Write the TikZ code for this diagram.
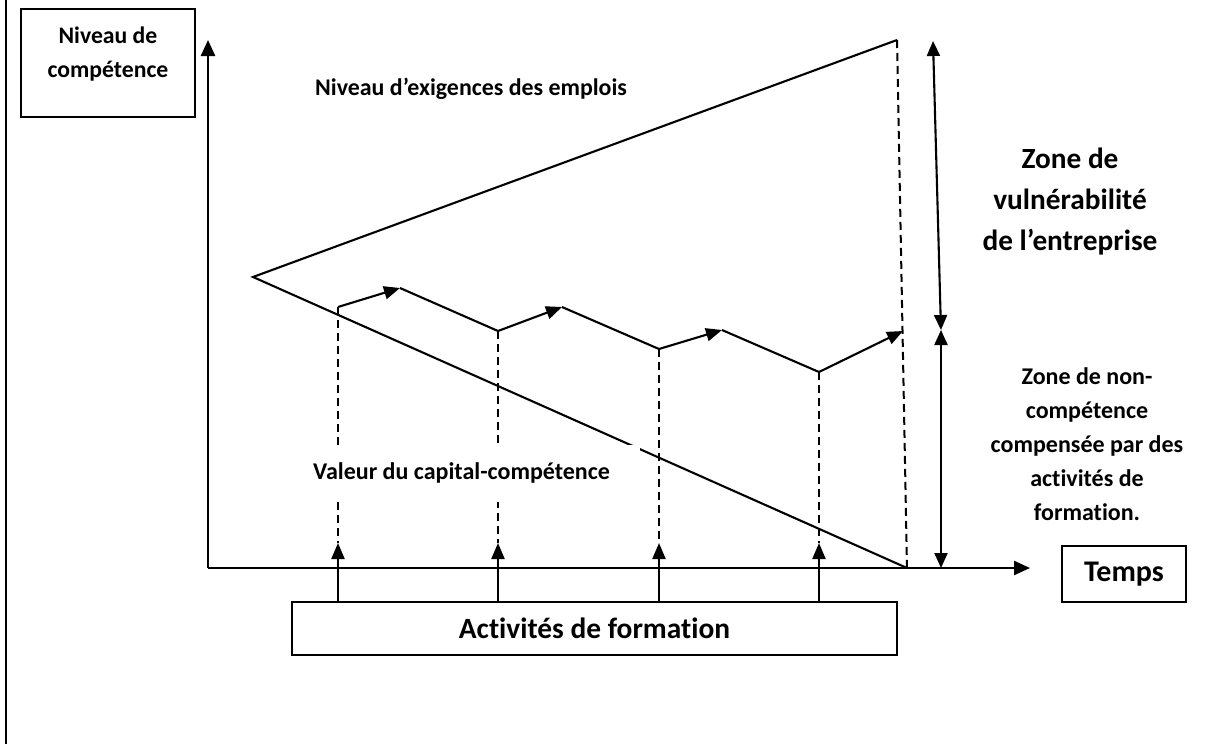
\documentclass[tikz,border=0pt]{standalone}
\usepackage{fontspec}
\setmainfont{Carlito}[Ligatures=NoCommon]
\usetikzlibrary{arrows.meta}
\begin{document}
\begin{tikzpicture}[x=1pt,y=-1pt,
  ln/.style={line width=2.1pt, line join=miter},
  ax/.style={line width=2.5pt, -{Triangle[length=16pt,width=14pt]}},
  arr/.style={line width=2.1pt, -{Triangle[length=16pt,width=13pt]}},
  dbl/.style={line width=2.1pt, {Triangle[length=15pt,width=13pt]}-{Triangle[length=15pt,width=13pt]}},
  dsh/.style={line width=2pt, dash pattern=on 8pt off 5pt},
  boxn/.style={draw, line width=2.2pt, inner sep=0pt},
  txt/.style={inner sep=0pt, font=\bfseries}]
\useasboundingbox (0,0) rectangle (1219,744);
% left frame line
\draw[line width=2.5pt] (6,0) -- (6,744);
% points
\coordinate (O) at (208,568);
\coordinate (Ytop) at (208,40);
\coordinate (Xend) at (1030,568);
\coordinate (L) at (253,277);
\coordinate (T) at (897,40);
\coordinate (B) at (907,568);
\coordinate (S0) at (338,307);
\coordinate (P1) at (400,288);
\coordinate (V1) at (498,331);
\coordinate (P2) at (562,307);
\coordinate (V2) at (659,349);
\coordinate (P3) at (722,330);
\coordinate (V3) at (819,372);
\coordinate (P4) at (903,331);
\coordinate (A1) at (338,543);
\coordinate (A2) at (498,543);
\coordinate (A3) at (659,543);
\coordinate (A4) at (819,543);
\coordinate (DA) at (933,41);
\coordinate (DM) at (941,330);
\coordinate (DB) at (941,568);
% boxes
\node[boxn, minimum width=174pt, minimum height=108pt] (niv) at (108,63) {};
\node[txt, align=center, font=\bfseries\fontsize{23.7}{34}\selectfont] (nivt) at (108,54) {Niveau de\\compétence};
\node[boxn, minimum width=124pt, minimum height=56pt] (temps) at (1124,574) {};
\node[txt, font=\bfseries\fontsize{30}{34}\selectfont] at (temps.center) {Temps};
\node[boxn, minimum width=605pt, minimum height=53pt] (act) at (594.5,628.5) {};
\node[txt, font=\bfseries\fontsize{29.4}{34}\selectfont] at (act.center) {Activités de formation};
% axes
\draw[ax] (O) -- (Ytop);
\draw[ax] (O) -- (Xend);
% triangle
\draw[ln] (B) -- (L) -- (T);
\draw[dsh] (T) -- (B);
% step line
\draw[arr] (S0) -- (P1);
\draw[ln] (P1) -- (V1);
\draw[arr] (V1) -- (P2);
\draw[ln] (P2) -- (V2);
\draw[arr] (V2) -- (P3);
\draw[ln] (P3) -- (V3);
\draw[arr] (V3) -- (P4);
% dashed verticals
\draw[dsh] (S0) -- (A1);
\draw[dsh] (V1) -- (A2);
\draw[dsh] (V2) -- (A3);
\draw[dsh] (V3) -- (A4);
% up arrows from box
\draw[arr] (act.north -| A1) -- (A1);
\draw[arr] (act.north -| A2) -- (A2);
\draw[arr] (act.north -| A3) -- (A3);
\draw[arr] (act.north -| A4) -- (A4);
% double arrows
\draw[dbl] (DA) -- (DM);
\draw[dbl] (DM) -- (DB);
% white text box
\node[fill=white, inner sep=0pt, minimum width=335pt, minimum height=57pt] (valbox) at (472.5,473.5) {};
\node[txt, anchor=west, font=\bfseries\fontsize{24}{30}\selectfont] (valt) at (313,473) {Valeur du capital-compétence};
\node[txt, anchor=west, font=\bfseries\fontsize{23.9}{30}\selectfont] (exig) at (315,89) {Niveau d’exigences des emplois};
\node[txt, align=center, font=\bfseries\fontsize{29.3}{41}\selectfont] (vuln) at (1070,202) {Zone de\\vulnérabilité\\de l’entreprise};
\node[txt, align=center, font=\bfseries\fontsize{24}{34}\selectfont] (nonc) at (1087,444) {Zone de non-\\compétence\\compensée par des\\activités de\\formation.};
\end{tikzpicture}
\end{document}
